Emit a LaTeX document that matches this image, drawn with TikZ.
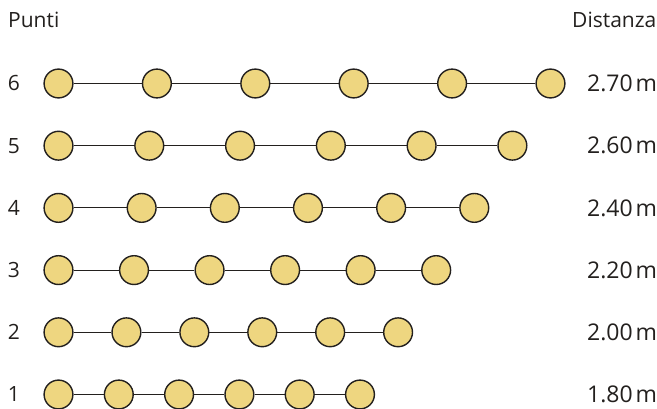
\documentclass[tikz,border=0pt]{standalone}
\usepackage{fontspec}
\setmainfont{Open Sans}
\definecolor{beadfill}{RGB}{238,214,128}
\definecolor{ink}{RGB}{35,32,30}
\begin{document}
\begin{tikzpicture}[x=1pt,y=-1pt,
  bead/.style={circle,draw=ink,line width=1.4pt,fill=beadfill,minimum size=28.8pt,inner sep=0pt},
  link/.style={draw=ink,line width=1.1pt},
  lab/.style={font=\fontsize{21}{24}\selectfont,text=ink,inner sep=0pt},
  val/.style={font=\fontsize{23}{26}\selectfont,text=ink,inner sep=0pt}]
\useasboundingbox (0,0) rectangle (657,409);
\fill[white] (0,0) rectangle (657,409);
\node[lab,anchor=base west] (punti) at (8,28) {Punti};
\node[lab,anchor=base west] (dist) at (572,28) {Distanza};
\foreach \n/\y/\d in {6/83.5/2.70,5/145.7/2.60,4/207.9/2.40,3/270.1/2.20,2/332.3/2.00,1/394.5/1.80}{
  \pgfmathsetmacro\sp{60.3+7.62*(\n-1)}
  \foreach \i in {0,...,5}{
    \node[bead] (r\n c\i) at ({58.5+\i*\sp},\y) {};
  }
  \foreach \i [evaluate=\i as \j using int(\i+1)] in {0,...,4}{
    \draw[link] (r\n c\i) -- (r\n c\j);
  }
  \node[val,anchor=west] (d\n) at (587,\y) {\d\hspace{0.12em}m};
  \node[lab] (p\n) at (14,\y) {\n};
}
\end{tikzpicture}
\end{document}
